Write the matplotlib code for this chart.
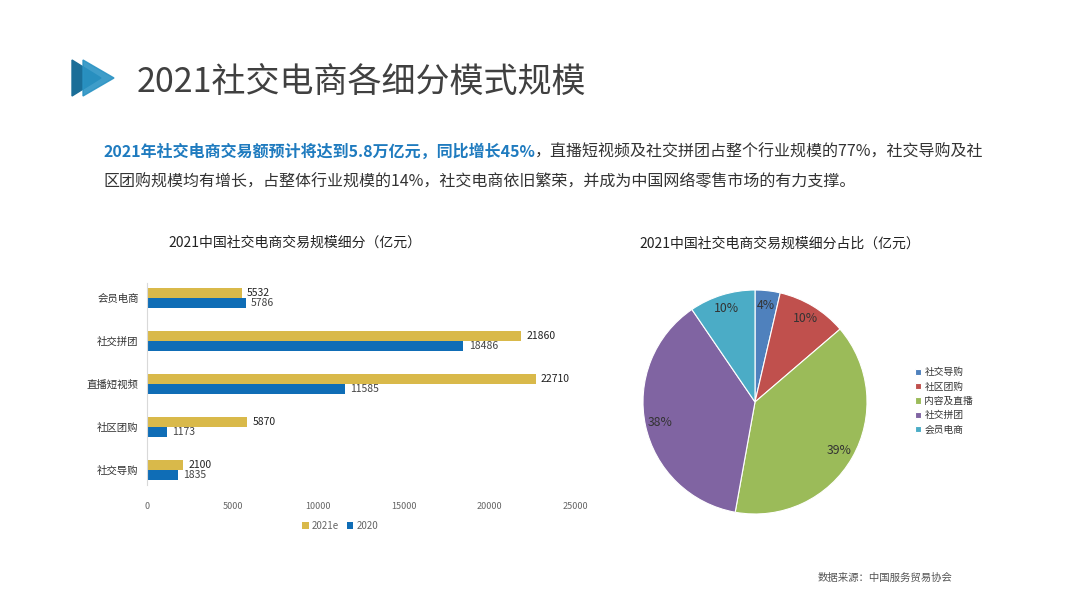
import matplotlib
matplotlib.use("Agg")
import matplotlib.pyplot as plt
from matplotlib.patches import Polygon

plt.rcParams['font.family'] = ['Noto Sans CJK SC', 'DejaVu Sans']

# data
categories = ["社交导购", "社区团购", "直播短视频", "社交拼团", "会员电商"]
v2021 = [2100, 5870, 22710, 21860, 5532]
v2020 = [1835, 1173, 11585, 18486, 5786]
xticks = [0, 5000, 10000, 15000, 20000, 25000]

pie_labels = ["社交导购", "社区团购", "内容及直播", "社交拼团", "会员电商"]
pie_values = [2100, 5870, 22710, 21860, 5532]
pie_colors = ["#4F81BD", "#C0504D", "#9BBB59", "#8064A2", "#4BACC6"]

gold = "#D9B94A"
blue = "#0F6DB6"

W, H = 1080, 608
fig = plt.figure(figsize=(10.8, 6.08), dpi=100)
fig.patch.set_facecolor("white")

# logo triangles
def px(x, y):
    return (x / W, 1 - y / H)

fig.patches.append(Polygon([px(72, 60), px(72, 96), px(101, 78)], closed=True,
                           transform=fig.transFigure, color="#1B6E98"))
fig.patches.append(Polygon([px(83, 60), px(83, 96), px(114, 78)], closed=True,
                           transform=fig.transFigure, color="#2A93C4", alpha=0.9))

fig.text(137 / W, 1 - 82 / H, "2021社交电商各细分模式规模", fontsize=24.5,
         color="#404040", va="center", ha="left")

# subtitle with bold blue start
renderer = fig.canvas.get_renderer()
t1 = fig.text(103 / W, 1 - 152 / H, "2021年社交电商交易额预计将达到5.8万亿元，同比增长45%",
              fontsize=11.5, fontweight="bold", color="#1F7BBF", va="center", ha="left")
bb = t1.get_window_extent(renderer=renderer)
fig.text(bb.x1 / W, 1 - 152 / H, "，直播短视频及社交拼团占整个行业规模的77%，社交导购及社",
         fontsize=11.5, color="#333333", va="center", ha="left")
fig.text(103 / W, 1 - 182 / H, "区团购规模均有增长，占整体行业规模的14%，社交电商依旧繁荣，并成为中国网络零售市场的有力支撑。",
         fontsize=11.5, color="#333333", va="center", ha="left")

# bar chart
ax = fig.add_axes([147 / W, 1 - 485 / H, 428 / W, 202 / H])
ys = list(range(len(categories)))
h = 0.235
ax.barh([y + h / 2 for y in ys], v2021, height=h, color=gold, label="2021e")
ax.barh([y - h / 2 for y in ys], v2020, height=h, color=blue, label="2020")
for y, a, b in zip(ys, v2021, v2020):
    ax.text(a + 300, y + h / 2, str(a), fontsize=7.5, color="#222222", va="center")
    ax.text(b + 300, y - h / 2, str(b), fontsize=7.5, color="#444444", va="center")
ax.set_xlim(0, 25000)
ax.set_ylim(-0.35, 4.35)
ax.set_yticks(ys)
ax.set_yticklabels(categories, fontsize=7.5, color="#333333")
ax.set_xticks(xticks)
ax.set_xticklabels([str(v) for v in xticks], fontsize=6.5, color="#666666")
ax.tick_params(length=0)
ax.tick_params(axis="x", pad=12)
ax.tick_params(axis="y", pad=6)
for s in ["top", "right", "bottom"]:
    ax.spines[s].set_visible(False)
ax.spines["left"].set_color("#D9D9D9")
ax.spines["left"].set_linewidth(0.8)
ax.legend(loc="center", bbox_to_anchor=(340 / W, 1 - 526 / H), bbox_transform=fig.transFigure,
          ncol=2, frameon=False, fontsize=7, labelcolor="#666666", handlelength=0.7,
          handleheight=0.7, handletextpad=0.3, columnspacing=0.8)

fig.text(295 / W, 1 - 243 / H, "2021中国社交电商交易规模细分（亿元）", fontsize=10,
         color="#222222", ha="center", va="center")

# pie chart
cx, cy, r = 755, 402, 112
pax = fig.add_axes([(cx - r) / W, 1 - (cy + r) / H, 2 * r / W, 2 * r / H])
wedges, texts, autotexts = pax.pie(pie_values, colors=pie_colors, startangle=90, counterclock=False,
                                   autopct=lambda p: "%d%%" % round(p), pctdistance=0.87,
                                   wedgeprops=dict(edgecolor="white", linewidth=0.8),
                                   textprops=dict(fontsize=8.8, color="#333333"))
pax.set_xlim(-1, 1)
pax.set_ylim(-1, 1)
pax.set_aspect("equal")
pax.legend(wedges, pie_labels, loc="center left", bbox_to_anchor=(906 / W, 1 - 401 / H),
           bbox_transform=fig.transFigure, frameon=False, fontsize=7, labelcolor="#333333",
           handlelength=0.6, handleheight=0.6, handletextpad=0.4, labelspacing=0.45)

fig.text(780 / W, 1 - 244 / H, "2021中国社交电商交易规模细分占比（亿元）", fontsize=10,
         color="#222222", ha="center", va="center")

fig.text(885 / W, 1 - 578 / H, "数据来源：中国服务贸易协会", fontsize=7.5,
         color="#555555", ha="center", va="center")

fig.savefig("out.png", dpi=100)
